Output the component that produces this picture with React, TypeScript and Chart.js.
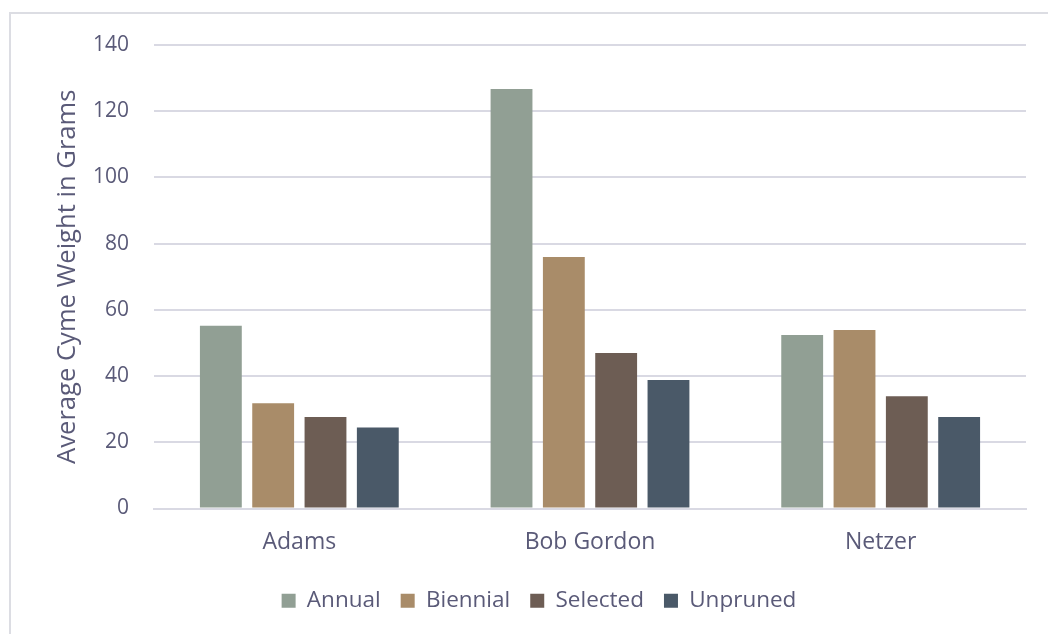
import React, { useEffect, useRef } from "react";
import { Chart, registerables } from "chart.js";

Chart.register(...registerables);

const categories = ["Adams", "Bob Gordon", "Netzer"];
const seriesNames = ["Annual", "Biennial", "Selected", "Unpruned"];
const annual = [55.2, 126.7, 52.4];
const biennial = [31.8, 76.0, 53.9];
const selected = [27.6, 47.0, 33.9];
const unpruned = [24.5, 38.8, 27.6];
const colors = ["#919f94", "#a98c69", "#6d5d54", "#4a5968"];
const yTitle = "Average Cyme Weight in Grams";

const textColor = "#5a5a78";
const font = "'Open Sans', 'Noto Sans', sans-serif";

export default function App() {
  const ref = useRef<HTMLCanvasElement | null>(null);
  useEffect(() => {
    document.body.style.overflow = "hidden";
    const values = [annual, biennial, selected, unpruned];
    const chart = new Chart(ref.current as HTMLCanvasElement, {
      type: "bar",
      data: {
        labels: categories,
        datasets: seriesNames.map((n, i) => ({
          label: n,
          data: values[i],
          backgroundColor: colors[i],
          borderWidth: 0,
          categoryPercentage: 0.72,
          barPercentage: 0.8,
        })),
      },
      options: {
        animation: false,
        responsive: false,
        maintainAspectRatio: false,
        layout: { padding: { left: 41, right: 23, top: 31, bottom: 13 } },
        plugins: {
          tooltip: { enabled: false },
          legend: {
            position: "bottom",
            labels: {
              color: textColor,
              font: { family: font, size: 22.5 },
              boxWidth: 14,
              boxHeight: 14,
              padding: 20,
            },
          },
        },
        scales: {
          x: {
            grid: { display: false },
            border: { color: "#d9d9e3", width: 2 },
            ticks: { color: textColor, font: { family: font, size: 23 }, padding: 12 },
            afterFit: (s: any) => { s.height = 61; },
          },
          y: {
            min: 0,
            max: 140,
            ticks: { stepSize: 20, color: textColor, font: { family: font, size: 21 }, padding: 16 },
            grid: {
              color: "#d9d9e3",
              lineWidth: 2,
              drawTicks: true,
              tickLength: 9,
              tickColor: "rgba(0,0,0,0)",
            },
            border: { display: false },
            title: {
              display: true,
              text: yTitle,
              color: textColor,
              font: { family: font, size: 25.6 },
              padding: { top: 0, bottom: 0 },
            },
            afterFit: (s: any) => { s.width = 102; },
          },
        },
      },
    });
    return () => chart.destroy();
  }, []);
  return (
    <div
      style={{
        position: "absolute",
        left: 9,
        top: 12,
        width: 1040,
        height: 630,
        border: "2px solid #dcdde3",
        background: "#fff",
      }}
    >
      <canvas ref={ref} width={1038} height={621} style={{ display: "block" }} />
    </div>
  );
}
